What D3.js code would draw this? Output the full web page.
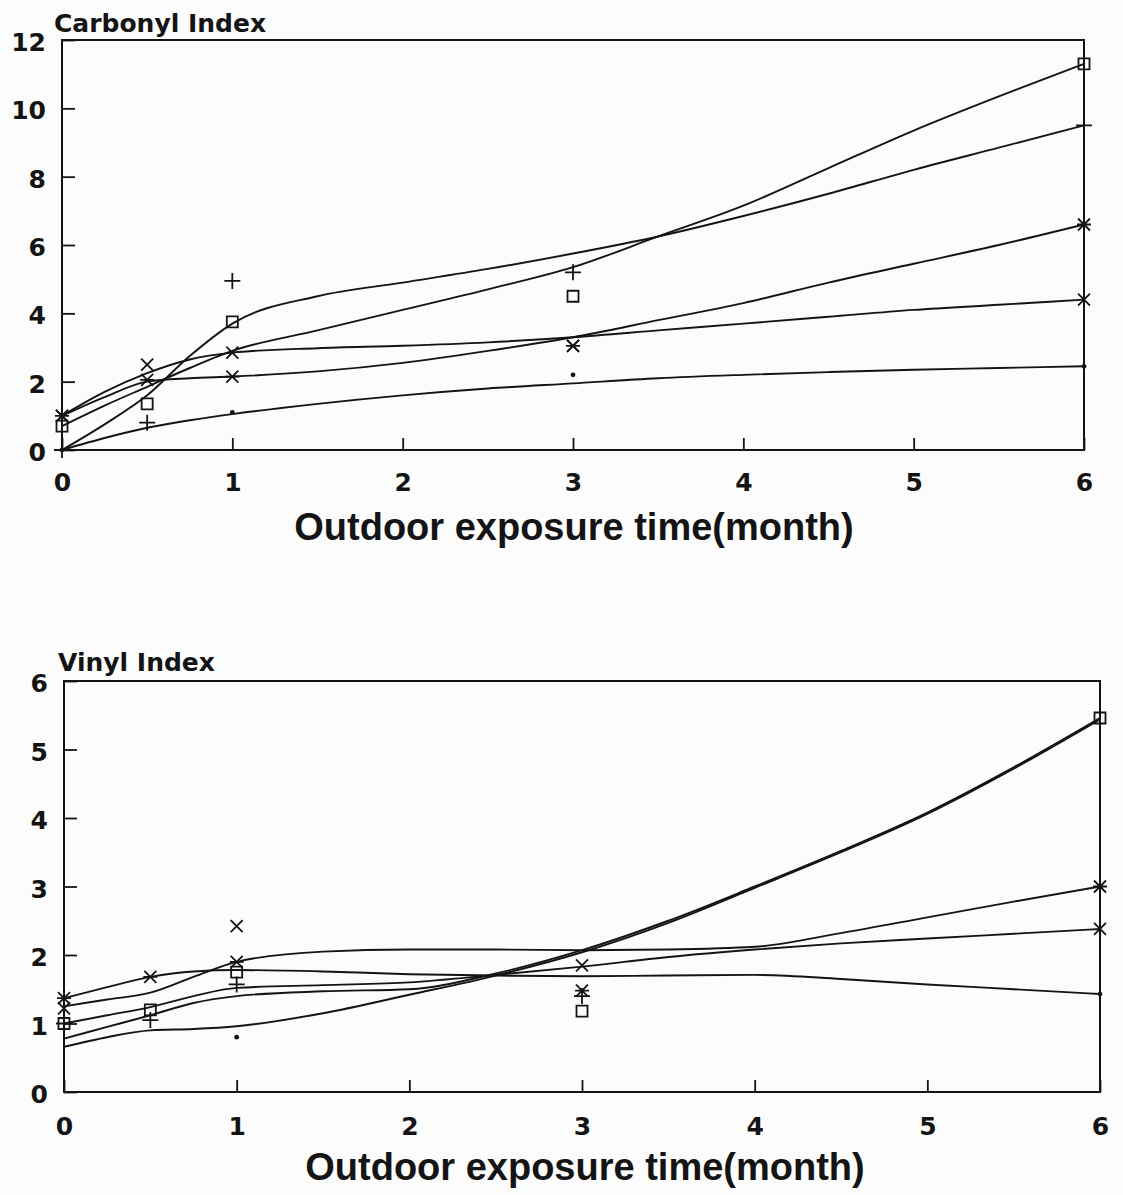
<!DOCTYPE html>
<html>
<head>
<meta charset="utf-8">
<script src="https://cdn.jsdelivr.net/npm/d3@7"></script>
<style>
  body { margin: 0; background: #fcfcfc; }
  text { fill: #141414; }
</style>
</head>
<body>
<div id="chart"></div>
<script>
// months at which samples were measured
const markMonths = [0, 0.5, 1, 3, 6];
const fitMonths = [0, 0.25, 0.5, 0.75, 1, 1.5, 2, 2.5, 3, 3.5, 4, 4.5, 5, 5.5, 6];
const xTicks = [0, 1, 2, 3, 4, 5, 6];

// Carbonyl index (top)
const carbonylTicks = [0, 2, 4, 6, 8, 10, 12];
const carbonylSquare   = [0.7, 1.35, 3.75, 4.5, 11.3];
const carbonylPlus     = [0, 0.8, 4.95, 5.2, 9.5];
const carbonylCross    = [1.0, 2.5, 2.85, 3.05, 4.4];
const carbonylStar     = [1.0, 2.05, 2.15, 3.05, 6.6];
const carbonylDot      = [0, null, 1.1, 2.2, 2.45];
const carbonylFitSquare = [0.7, 1.3, 1.85, 2.4, 2.9, 3.5, 4.1, 4.7, 5.35, 6.25, 7.15, 8.25, 9.35, 10.35, 11.3];
const carbonylFitPlus   = [0, 0.75, 1.6, 2.75, 3.7, 4.5, 4.9, 5.3, 5.75, 6.25, 6.85, 7.5, 8.2, 8.85, 9.5];
const carbonylFitCross  = [1.0, 1.7, 2.25, 2.65, 2.85, 2.98, 3.05, 3.15, 3.3, 3.5, 3.7, 3.9, 4.1, 4.25, 4.4];
const carbonylFitStar   = [1.0, 1.55, 2.0, 2.1, 2.15, 2.3, 2.55, 2.9, 3.3, 3.8, 4.3, 4.9, 5.45, 6.0, 6.6];
const carbonylFitDot    = [0, 0.35, 0.65, 0.87, 1.05, 1.35, 1.6, 1.8, 1.95, 2.1, 2.2, 2.28, 2.35, 2.4, 2.45];

// Vinyl index (bottom)
const vinylTicks = [0, 1, 2, 3, 4, 5, 6];
const vinylSquare = [1.0, 1.2, 1.75, 1.18, 5.46];
const vinylPlus   = [1.0, 1.05, 1.57, 1.4, null];
const vinylCross  = [1.22, null, 2.42, 1.85, 2.38];
const vinylStar   = [1.37, 1.68, 1.9, 1.48, 3.0];
const vinylDot    = [null, null, 0.8, null, 1.43];
const vinylFitSquare = [0.78, 0.95, 1.12, 1.3, 1.4, 1.47, 1.5, 1.73, 2.07, 2.5, 3.0, 3.52, 4.08, 4.74, 5.46];
const vinylFitPlus   = [0.66, 0.8, 0.9, 0.92, 0.96, 1.15, 1.42, 1.7, 2.04, 2.47, 2.98, 3.5, 4.06, 4.72, 5.44];
const vinylFitCross  = [1.0, 1.12, 1.24, 1.4, 1.52, 1.56, 1.6, 1.71, 1.83, 1.97, 2.08, 2.17, 2.24, 2.31, 2.38];
const vinylFitStar   = [1.25, 1.35, 1.45, 1.68, 1.9, 2.05, 2.08, 2.08, 2.07, 2.08, 2.12, 2.32, 2.55, 2.78, 3.0];
const vinylFitDot    = [1.37, 1.53, 1.68, 1.76, 1.78, 1.76, 1.72, 1.7, 1.69, 1.7, 1.71, 1.65, 1.57, 1.5, 1.43];

const ink = "#141414";

const svg = d3.select("#chart").append("svg")
    .attr("width", 1123)
    .attr("height", 1195);

svg.append("rect").attr("width", 1123).attr("height", 1195).attr("fill", "#fcfcfc");

// marker glyphs
function glyph(type) {
    if (type === "square") return "M-5.5,-5.5H5.5V5.5H-5.5Z";
    if (type === "plus") return "M-8,0H8M0,-8V8";
    if (type === "cross") return "M-6,-6L6,6M-6,6L6,-6";
    if (type === "star") return "M-6,-6L6,6M-6,6L6,-6M-7,0H7";
    return null;
}

function panel(o) {
    const x = d3.scaleLinear().domain([0, 6]).range([o.left, o.right]);
    const y = d3.scaleLinear().domain([0, o.yMax]).range([o.bottom, o.top]);
    const g = svg.append("g");

    // bottom axis, ticks inward
    g.append("g")
        .attr("transform", "translate(0," + o.bottom + ")")
        .call(d3.axisBottom(x).tickValues(xTicks).tickSize(-12).tickPadding(o.xPad).tickFormat(d3.format("d")))
        .call(a => a.select(".domain").remove())
        .call(a => a.selectAll("line").attr("stroke", ink).attr("stroke-width", 1.8))
        .call(a => a.selectAll("text").attr("font-family", "DejaVu Sans").attr("font-weight", "bold").attr("font-size", 25).attr("fill", ink));

    // left axis, ticks inward
    g.append("g")
        .attr("transform", "translate(" + o.left + ",0)")
        .call(d3.axisLeft(y).tickValues(o.yTicks).tickSize(-13).tickPadding(16).tickFormat(d3.format("d")))
        .call(a => a.select(".domain").remove())
        .call(a => a.selectAll("line").attr("stroke", ink).attr("stroke-width", 1.8))
        .call(a => a.selectAll("text").attr("font-family", "DejaVu Sans").attr("font-weight", "bold").attr("font-size", 25).attr("dy", "0.42em").attr("fill", ink));

    // frame
    g.append("rect")
        .attr("x", o.left).attr("y", o.top)
        .attr("width", o.right - o.left).attr("height", o.bottom - o.top)
        .attr("fill", "none").attr("stroke", ink).attr("stroke-width", 2);

    const line = d3.line()
        .x((d, i) => x(fitMonths[i]))
        .y(d => y(d))
        .curve(d3.curveMonotoneX);

    o.fits.forEach(f => {
        g.append("path")
            .datum(f)
            .attr("fill", "none")
            .attr("stroke", ink)
            .attr("stroke-width", 1.9)
            .attr("stroke-linejoin", "round")
            .attr("d", line);
    });

    o.marks.forEach(m => {
        const pts = m.values.map((v, i) => ({ t: markMonths[i], v: v })).filter(p => p.v !== null);
        const sel = g.append("g").selectAll("g").data(pts).join("g")
            .attr("transform", p => "translate(" + x(p.t) + "," + y(p.v) + ")");
        if (m.type === "dot") {
            sel.append("circle").attr("r", 2.4).attr("fill", ink);
        } else {
            sel.append("path")
                .attr("d", glyph(m.type))
                .attr("fill", "none")
                .attr("stroke", ink)
                .attr("stroke-width", 1.8);
        }
    });

    g.append("text")
        .attr("x", o.labelX).attr("y", o.labelY)
        .attr("font-family", "DejaVu Sans").attr("font-weight", "bold").attr("font-size", 25)
        .text(o.label);

    g.append("text")
        .attr("x", o.titleX).attr("y", o.titleY)
        .attr("text-anchor", "middle")
        .attr("font-family", "Liberation Sans").attr("font-weight", "bold").attr("font-size", 38)
        .text("Outdoor exposure time(month)");
}

panel({
    left: 62, right: 1084, top: 40, bottom: 450, yMax: 12, yTicks: carbonylTicks, xPad: 23,
    label: "Carbonyl Index", labelX: 54, labelY: 32,
    titleX: 574, titleY: 540,
    fits: [carbonylFitSquare, carbonylFitPlus, carbonylFitCross, carbonylFitStar, carbonylFitDot],
    marks: [
        { type: "square", values: carbonylSquare },
        { type: "plus", values: carbonylPlus },
        { type: "cross", values: carbonylCross },
        { type: "star", values: carbonylStar },
        { type: "dot", values: carbonylDot }
    ]
});

panel({
    left: 64, right: 1100, top: 681, bottom: 1092, yMax: 6, yTicks: vinylTicks, xPad: 25,
    label: "Vinyl Index", labelX: 58, labelY: 671,
    titleX: 585, titleY: 1180,
    fits: [vinylFitSquare, vinylFitPlus, vinylFitCross, vinylFitStar, vinylFitDot],
    marks: [
        { type: "square", values: vinylSquare },
        { type: "plus", values: vinylPlus },
        { type: "cross", values: vinylCross },
        { type: "star", values: vinylStar },
        { type: "dot", values: vinylDot }
    ]
});
</script>
</body>
</html>
